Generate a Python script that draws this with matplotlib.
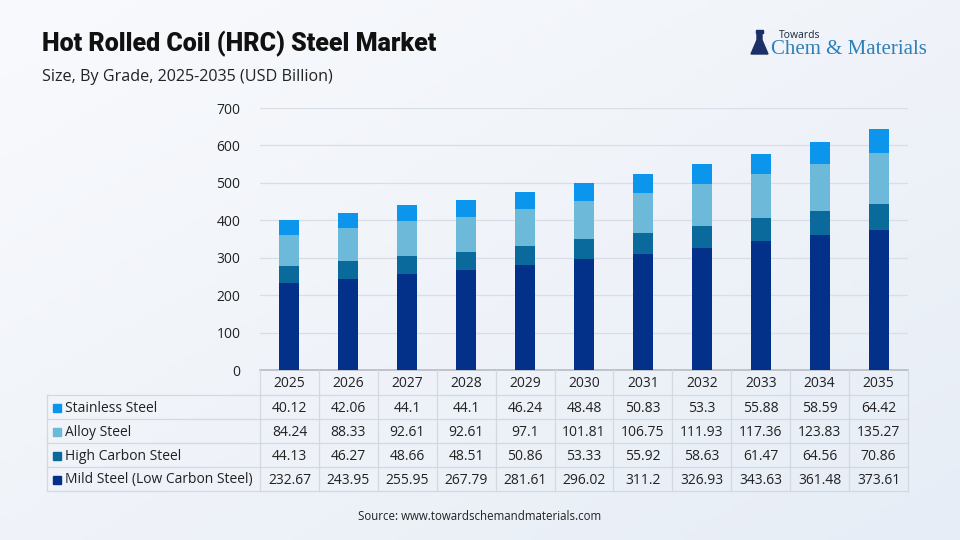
import matplotlib
matplotlib.use("Agg")
import matplotlib.pyplot as plt
import numpy as np
from matplotlib.patches import Rectangle, Polygon

years = ["2025", "2026", "2027", "2028", "2029", "2030", "2031", "2032", "2033", "2034", "2035"]
series_names = ["Stainless Steel", "Alloy Steel", "High Carbon Steel", "Mild Steel (Low Carbon Steel)"]
stainless = [40.12, 42.06, 44.1, 44.1, 46.24, 48.48, 50.83, 53.3, 55.88, 58.59, 64.42]
alloy = [84.24, 88.33, 92.61, 92.61, 97.1, 101.81, 106.75, 111.93, 117.36, 123.83, 135.27]
high_carbon = [44.13, 46.27, 48.66, 48.51, 50.86, 53.33, 55.92, 58.63, 61.47, 64.56, 70.86]
mild = [232.67, 243.95, 255.95, 267.79, 281.61, 296.02, 311.2, 326.93, 343.63, 361.48, 373.61]
colors = {"Stainless Steel": "#0b95ec", "Alloy Steel": "#6cb9d9",
          "High Carbon Steel": "#0a6a9c", "Mild Steel (Low Carbon Steel)": "#03318a"}
yticks = [0, 100, 200, 300, 400, 500, 600, 700]

W, H = 960, 540
fig = plt.figure(figsize=(9.6, 5.4), dpi=100)
plt.rcParams['font.family'] = ['Open Sans', 'DejaVu Sans']

# background gradient
bg = fig.add_axes([0, 0, 1, 1], zorder=-10)
gx = np.linspace(0, 1, 200)
gy = np.linspace(0, 1, 120)
X, Y = np.meshgrid(gx, gy)
t = 0.5 * X + 0.5 * Y
c0 = np.array([0.975, 0.98, 0.99])
c1 = np.array([0.905, 0.93, 0.965])
img = c0[None, None, :] * (1 - t[..., None]) + c1[None, None, :] * t[..., None]
bg.imshow(img, aspect='auto', extent=[0, 1, 1, 0])
bg.set_xlim(0, 1); bg.set_ylim(1, 0)
bg.axis('off')

def fx(px):
    return px / W
def fy(py):
    return 1 - py / H

ax_l, ax_r, ax_t, ax_b = 260, 908, 108, 370
ax = fig.add_axes([fx(ax_l), fy(ax_b), (ax_r - ax_l) / W, (ax_b - ax_t) / H])
ax.set_facecolor('none')
x = np.arange(len(years))
bw = 0.34
data_stack = [("Mild Steel (Low Carbon Steel)", mild), ("High Carbon Steel", high_carbon),
              ("Alloy Steel", alloy), ("Stainless Steel", stainless)]
bottom = np.zeros(len(years))
for name, vals in data_stack:
    ax.bar(x, vals, bw, bottom=bottom, color=colors[name], zorder=3)
    bottom += np.array(vals)
ax.set_xlim(-0.5, len(years) - 0.5)
ax.set_ylim(0, 700)
ax.set_yticks(yticks)
ax.set_yticklabels([str(v) for v in yticks], fontsize=10, color='#222222')
ax.tick_params(axis='y', length=0, pad=14)
ax.set_xticks([])
ax.grid(axis='y', color='#d9dee6', linewidth=0.9, zorder=0)
for s in ['top', 'right', 'left']:
    ax.spines[s].set_visible(False)
ax.spines['bottom'].set_color('#b8bcc2')
ax.spines['bottom'].set_linewidth(1.2)

# table
line_c = '#d3d9e1'
col_w = (ax_r - ax_l) / len(years)
row_tops = [370, 395, 419, 443, 467, 491]
leg_l = 47
for i, yr in enumerate(years):
    cx = ax_l + (i + 0.5) * col_w
    fig.text(fx(cx), fy((row_tops[0] + row_tops[1]) / 2 + 1), yr, ha='center', va='center', fontsize=10, color='#222222')
for i in range(len(years) + 1):
    vx = ax_l + i * col_w
    fig.add_artist(plt.Line2D([fx(vx), fx(vx)], [fy(row_tops[0]), fy(row_tops[-1])], color=line_c, lw=0.9))
fig.add_artist(plt.Line2D([fx(leg_l), fx(leg_l)], [fy(row_tops[1]), fy(row_tops[-1])], color=line_c, lw=0.9))
for j, ry in enumerate(row_tops[1:]):
    fig.add_artist(plt.Line2D([fx(leg_l), fx(ax_r)], [fy(ry), fy(ry)], color=line_c, lw=0.9))

rows = [("Stainless Steel", stainless), ("Alloy Steel", alloy),
        ("High Carbon Steel", high_carbon), ("Mild Steel (Low Carbon Steel)", mild)]
for r, (name, vals) in enumerate(rows):
    cy = (row_tops[r + 1] + row_tops[r + 2]) / 2 + 1
    fig.add_artist(Rectangle((fx(53), fy(cy + 4)), 8 / W, 8 / H, color=colors[name], transform=fig.transFigure))
    fig.text(fx(65), fy(cy), name, ha='left', va='center', fontsize=10, color='#222222')
    for i, v in enumerate(vals):
        cx = ax_l + (i + 0.5) * col_w
        fig.text(fx(cx), fy(cy), f"{v:g}", ha='center', va='center', fontsize=10, color='#222222')

# titles
fig.text(fx(42), fy(44), "Hot Rolled Coil (HRC) Steel Market", ha='left', va='center',
         fontsize=18, fontweight='heavy', family=['Roboto', 'DejaVu Sans'], color='#111111')
fig.text(fx(42), fy(77), "Size, By Grade, 2025-2035 (USD Billion)", ha='left', va='center',
         fontsize=11.6, color='#222222')
fig.text(fx(480), fy(516), "Source: www.towardschemandmaterials.com", ha='center', va='center',
         fontsize=8.3, color='#222222')

# logo
fig.text(fx(779), fy(35), "Towards", ha='left', va='center', fontsize=7.5, color='#1a2440')
fig.text(fx(771), fy(49), "Chem & Materials", ha='left', va='center', fontsize=15,
         family=['Liberation Serif', 'DejaVu Serif'], color='#2f7fb9')
flask = Polygon([(fx(757), fy(33)), (fx(762), fy(33)), (fx(762), fy(40)), (fx(768), fy(54)),
                 (fx(751), fy(54)), (fx(757), fy(40))], closed=True, color='#1c2f66',
                transform=fig.transFigure)
fig.add_artist(flask)
fig.add_artist(Rectangle((fx(756), fy(33)), 7 / W, 3 / H, color='#1c2f66', transform=fig.transFigure))

fig.savefig("out.png", dpi=100)
